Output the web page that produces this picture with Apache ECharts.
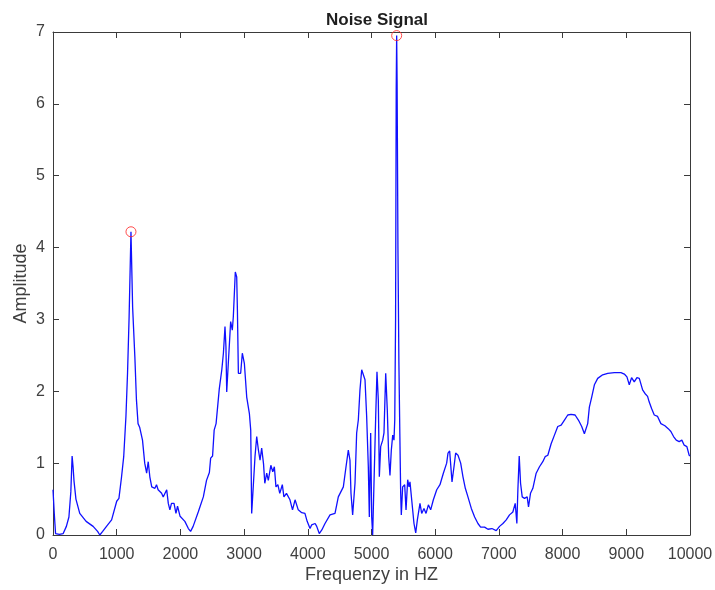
<!DOCTYPE html>
<html>
<head>
<meta charset="utf-8">
<script src="https://cdn.jsdelivr.net/npm/echarts@6/dist/echarts.min.js"></script>
<style>html,body{margin:0;padding:0;background:#fff}#c{width:715px;height:590px}</style>
</head>
<body>
<div id="c"></div>
<script>
var freqHz = [0,20,40,100,160,210,250,280,300,315,330,360,420,520,630,700,735,780,840,920,
1000,1035,1075,1110,1145,1170,1195,1224,1250,1285,1310,1335,1360,1405,1440,1470,1495,1520,1550,1600,
1625,1650,1705,1730,1785,1810,1835,1860,1900,1930,1955,1995,2070,2125,2160,2200,2280,2360,2410,2455,
2475,2505,2530,2560,2590,2610,2650,2675,2700,2715,2727,2752,2789,2815,2831,2862,2884,2895,2910,2946,
2972,3004,3041,3083,3104,3119,3145,3171,3198,3225,3250,3276,3290,3305,3325,3355,3380,3420,3450,3475,
3500,3530,3560,3600,3625,3665,3720,3760,3800,3850,3905,3955,3990,4035,4060,4115,4140,4180,4220,4270,
4349,4427,4479,4558,4600,4636,4662,4678,4704,4741,4767,4793,4819,4846,4872,4898,4924,4950,4966,4987,
5003,5018,5039,5066,5086,5107,5123,5144,5176,5196,5223,5248,5270,5290,5311,5333,5353,5365,5378,5388,
5395,5402,5415,5430,5445,5458,5468,5489,5521,5542,5568,5589,5604,5631,5667,5694,5720,5761,5788,5824,
5856,5893,5929,5971,6024,6075,6128,6180,6201,6227,6264,6295,6321,6358,6400,6436,6473,6514,6567,6619,
6671,6713,6775,6828,6890,6958,7010,7063,7115,7167,7219,7256,7282,7298,7319,7340,7366,7402,7444,7465,
7496,7533,7585,7637,7689,7726,7768,7820,7872,7924,7977,8029,8081,8133,8196,8248,8300,8342,8368,8394,
8420,8457,8499,8551,8629,8708,8812,8916,8969,9010,9047,9083,9125,9167,9204,9230,9256,9293,9334,9360,
9397,9439,9491,9543,9606,9658,9700,9742,9784,9830,9872,9909,9951,9987,10000];
var amplitude = [0.63,0.30,0.02,0.01,0.02,0.12,0.25,0.60,1.10,0.95,0.75,0.50,0.30,0.19,0.12,0.05,0.00,0.05,0.12,0.21,
0.47,0.51,0.80,1.09,1.65,2.25,3.04,4.22,3.17,2.48,1.88,1.55,1.50,1.32,1.00,0.86,1.02,0.81,0.67,0.65,
0.70,0.63,0.58,0.53,0.63,0.44,0.35,0.44,0.44,0.30,0.40,0.26,0.19,0.09,0.05,0.12,0.32,0.53,0.76,0.87,
1.07,1.10,1.46,1.55,1.55,2.03,2.30,2.53,2.90,2.62,1.99,2.39,2.97,2.85,3.04,3.66,3.59,3.13,2.25,2.25,
2.53,2.39,1.92,1.69,1.46,0.30,0.30,1.09,1.37,1.18,1.04,1.21,1.20,0.99,0.72,0.86,0.76,0.97,0.88,0.95,
0.67,0.70,0.58,0.70,0.53,0.58,0.49,0.35,0.49,0.35,0.31,0.30,0.19,0.09,0.14,0.16,0.12,0.02,0.07,0.16,
0.28,0.30,0.53,0.67,0.95,1.18,1.04,0.58,0.28,0.72,1.42,1.60,2.02,2.30,2.32,2.16,1.65,0.95,0.25,1.42,
0.25,0.00,0.72,1.65,2.27,1.88,0.81,1.23,1.32,1.42,2.25,1.74,1.09,0.83,1.18,1.39,1.32,1.60,3.00,6.20,
6.95,6.30,4.00,2.40,1.40,0.58,0.28,0.67,0.70,0.35,0.77,0.67,0.74,0.49,0.16,0.03,0.21,0.44,0.30,0.37,
0.30,0.42,0.35,0.49,0.63,0.70,0.86,1.00,1.14,1.17,0.74,0.95,1.14,1.11,1.00,0.81,0.65,0.53,0.37,0.25,
0.16,0.11,0.11,0.08,0.09,0.06,0.12,0.16,0.21,0.28,0.32,0.44,0.16,0.63,1.10,0.72,0.53,0.51,0.53,0.39,
0.58,0.65,0.86,0.95,1.02,1.09,1.11,1.27,1.39,1.51,1.53,1.60,1.67,1.68,1.67,1.60,1.51,1.41,1.39,1.55,
1.78,1.92,2.09,2.18,2.23,2.25,2.26,2.26,2.24,2.20,2.09,2.19,2.13,2.19,2.18,2.19,2.02,1.97,1.93,1.85,
1.76,1.67,1.65,1.55,1.52,1.48,1.44,1.37,1.32,1.30,1.32,1.25,1.23,1.11,1.10];
var peakFreq = [1224, 5395];
var peakAmp = [4.22, 6.95];
var xTicks = [0,1000,2000,3000,4000,5000,6000,7000,8000,9000,10000];
var yTicks = [0,1,2,3,4,5,6,7];

var lineData = freqHz.map(function(f,i){return [f, amplitude[i]];});
var peakData = peakFreq.map(function(f,i){return [f, peakAmp[i]];});

var axisCol = '#3a3a3a';
var txtCol = '#404040';
var font = 'Liberation Sans, Arial, sans-serif';

var chart = echarts.init(document.getElementById('c'), null, {renderer:'canvas'});
chart.setOption({
  animation:false,
  backgroundColor:'#ffffff',
  title:{text:'Noise Signal', left:372, top:7, textAlign:'center',
    textStyle:{fontFamily:font, fontSize:17, fontWeight:'bold', color:'#1e1e1e'}},
  grid:{left:53, right:25, top:32, bottom:55, show:false, containLabel:false, outerBoundsMode:'none'},
  xAxis:[{
    type:'value', min:xTicks[0], max:xTicks[xTicks.length-1], interval:1000, position:'bottom',
    name:'Frequenzy in HZ', nameLocation:'middle', nameGap:31, nameMoveOverlap:false,
    nameTextStyle:{fontFamily:font, fontSize:18, color:txtCol},
    axisLine:{show:true, onZero:false, lineStyle:{color:axisCol, width:1}},
    axisTick:{show:true, inside:true, length:6, lineStyle:{color:axisCol}},
    axisLabel:{fontFamily:font, fontSize:16, color:txtCol, margin:12, formatter:function(v){return String(v);}},
    splitLine:{show:false}
  },{
    type:'value', min:xTicks[0], max:xTicks[xTicks.length-1], interval:1000, position:'top',
    axisLine:{show:true, onZero:false, lineStyle:{color:axisCol, width:1}},
    axisTick:{show:true, inside:true, length:6, lineStyle:{color:axisCol}},
    axisLabel:{show:false}, splitLine:{show:false}
  }],
  yAxis:[{
    type:'value', min:yTicks[0], max:yTicks[yTicks.length-1], interval:1, position:'left',
    name:'Amplitude', nameLocation:'middle', nameGap:23, nameRotate:90, nameMoveOverlap:false,
    nameTextStyle:{fontFamily:font, fontSize:18, color:txtCol},
    axisLine:{show:true, onZero:false, lineStyle:{color:axisCol, width:1}},
    axisTick:{show:true, inside:true, length:6, lineStyle:{color:axisCol}},
    axisLabel:{fontFamily:font, fontSize:16, color:txtCol, margin:8, formatter:function(v){return String(v);}},
    splitLine:{show:false}
  },{
    type:'value', min:yTicks[0], max:yTicks[yTicks.length-1], interval:1, position:'right',
    axisLine:{show:true, onZero:false, lineStyle:{color:axisCol, width:1}},
    axisTick:{show:true, inside:true, length:6, lineStyle:{color:axisCol}},
    axisLabel:{show:false}, splitLine:{show:false}
  }],
  series:[{
    type:'line', xAxisIndex:0, yAxisIndex:0, data:lineData, showSymbol:false, smooth:false,
    lineStyle:{color:'#1010ff', width:1.3}, z:2
  },{
    type:'scatter', xAxisIndex:0, yAxisIndex:0, data:peakData, symbol:'circle', symbolSize:10,
    itemStyle:{color:'rgba(0,0,0,0)', borderColor:'#ff2020', borderWidth:1}, z:3
  }]
});
</script>
</body>
</html>
